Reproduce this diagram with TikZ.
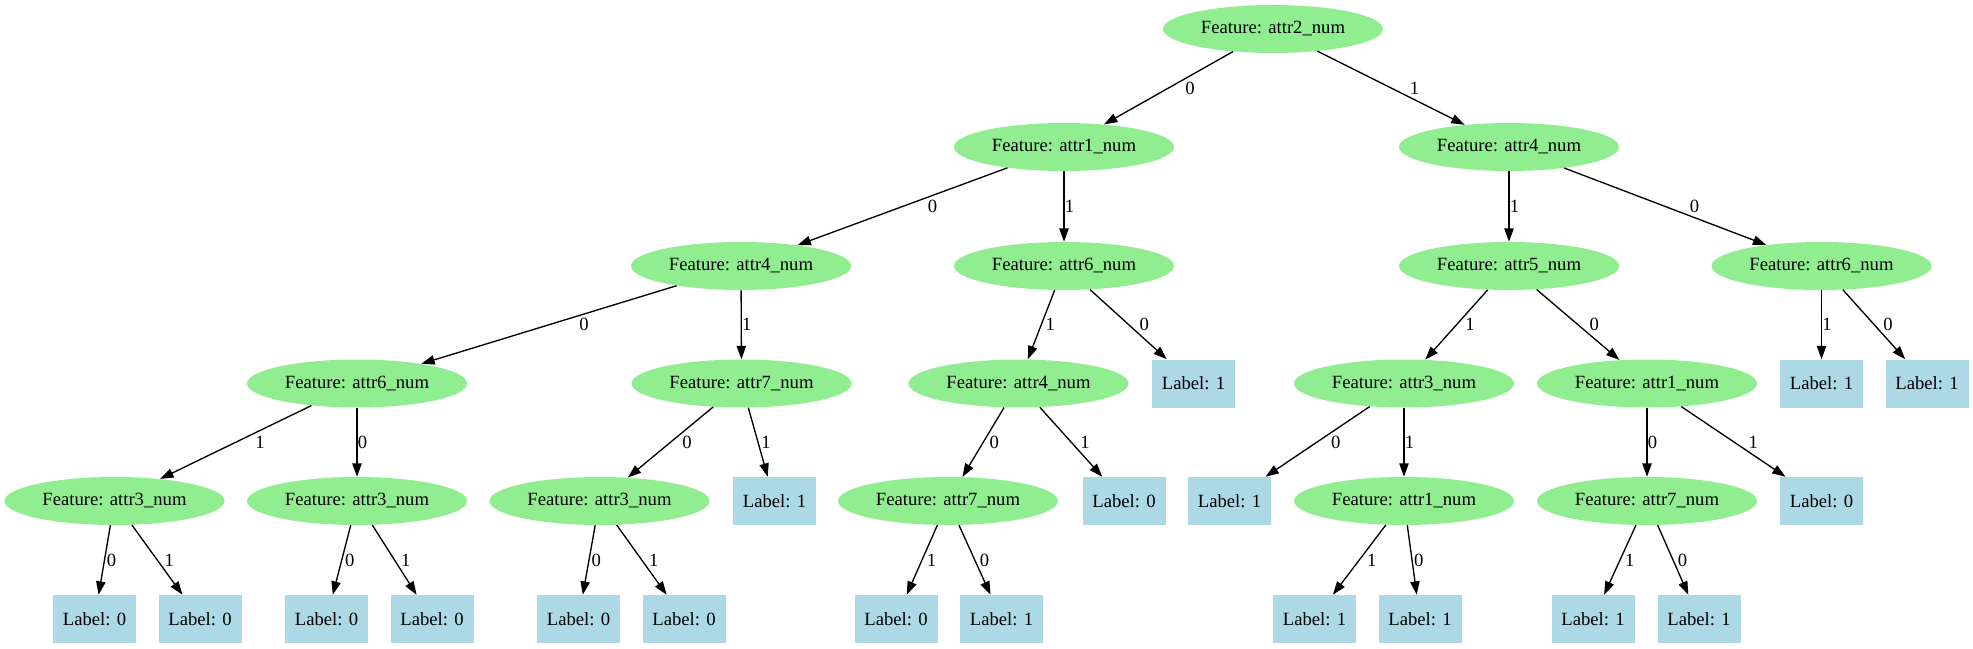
\documentclass[tikz,border=0pt]{standalone}
\usepackage{fontspec}
\setmainfont{Liberation Serif}
\usetikzlibrary{arrows.meta, shapes.geometric, calc}
\definecolor{featgreen}{HTML}{90EE90}
\definecolor{leafblue}{HTML}{ADD8E6}
\begin{document}
\begin{tikzpicture}[
  x=0.75pt, y=-0.75pt,
  every node/.style={font=\fontsize{14}{16}\selectfont},
  feat/.style={ellipse, fill=featgreen, inner sep=0pt,
               minimum width=165pt, minimum height=36pt},
  leaf/.style={rectangle, fill=leafblue, inner sep=0pt,
               minimum width=62.25pt, minimum height=36pt},
  arr/.style={-{Triangle[length=10pt, width=7pt]}, line width=1pt},
  elbl/.style={anchor=west, inner sep=0.5pt}
]
\useasboundingbox (0,0) rectangle (1973,649);

% level 0 / 1
\node[feat] (n0) at (1273,29)  {Feature: attr2\_num};
\node[feat] (n1) at (1064,147) {Feature: attr1\_num};
\node[feat] (n2) at (1509,147) {Feature: attr4\_num};

% level 2
\node[feat] (n3) at (741,266)    {Feature: attr4\_num};
\node[feat] (n4) at (1064,266)   {Feature: attr6\_num};
\node[feat] (n5) at (1509,266)   {Feature: attr5\_num};
\node[feat] (n6) at (1821.5,266) {Feature: attr6\_num};

% level 3
\node[feat] (n7)  at (357,383.5)    {Feature: attr6\_num};
\node[feat] (n8)  at (741.5,383.5)  {Feature: attr7\_num};
\node[feat] (n9)  at (1018.5,383.5) {Feature: attr4\_num};
\node[leaf] (l1)  at (1193.5,383.5) {Label: 1};
\node[feat] (n10) at (1404,383.5)   {Feature: attr3\_num};
\node[feat] (n11) at (1647,383.5)   {Feature: attr1\_num};
\node[leaf] (l2)  at (1821.5,383.5) {Label: 1};
\node[leaf] (l3)  at (1927,383.5)   {Label: 1};

% level 4
\node[feat] (n12) at (114.5,501)  {Feature: attr3\_num};
\node[feat] (n13) at (357,501)    {Feature: attr3\_num};
\node[feat] (n14) at (599.5,501)  {Feature: attr3\_num};
\node[leaf] (l4)  at (774.5,501)  {Label: 1};
\node[feat] (n15) at (948,501)    {Feature: attr7\_num};
\node[leaf] (l5)  at (1124,501)   {Label: 0};
\node[leaf] (l6)  at (1229.5,501) {Label: 1};
\node[feat] (n16) at (1404,501)   {Feature: attr1\_num};
\node[feat] (n17) at (1647,501)   {Feature: attr7\_num};
\node[leaf] (l7)  at (1821.5,501) {Label: 0};

% level 5 (leaves)
\node[leaf] (l8)  at (94.5,619)   {Label: 0};
\node[leaf] (l9)  at (200,619)    {Label: 0};
\node[leaf] (l10) at (326.5,619)  {Label: 0};
\node[leaf] (l11) at (432,619)    {Label: 0};
\node[leaf] (l12) at (578.5,619)  {Label: 0};
\node[leaf] (l13) at (684,619)    {Label: 0};
\node[leaf] (l14) at (896,619)    {Label: 0};
\node[leaf] (l15) at (1001.5,619) {Label: 1};
\node[leaf] (l16) at (1314.5,619) {Label: 1};
\node[leaf] (l17) at (1420,619)   {Label: 1};
\node[leaf] (l18) at (1593,619)   {Label: 1};
\node[leaf] (l19) at (1699,619)   {Label: 1};

% edges, label right of the line at its middle
\foreach \a/\b/\v in {n0/n1/0, n0/n2/1, n1/n3/0, n1/n4/1, n2/n5/1, n2/n6/0,
    n3/n7/0, n3/n8/1, n4/n9/1, n4/l1/0, n5/n10/1, n5/n11/0, n6/l2/1, n6/l3/0,
    n7/n12/1, n7/n13/0, n8/n14/0, n8/l4/1, n9/n15/0, n9/l5/1,
    n10/l6/0, n10/n16/1, n11/n17/0, n11/l7/1,
    n12/l8/0, n12/l9/1, n13/l10/0, n13/l11/1, n14/l12/0, n14/l13/1,
    n15/l14/1, n15/l15/0, n16/l16/1, n16/l17/0, n17/l18/1, n17/l19/0} {
  \draw[arr] (\a) -- (\b);
  \path let \p1=(\a), \p2=(\b),
            \n1={abs(\x2-\x1)/abs(\y2-\y1)*6.75} in
    node[elbl, xshift=\n1] at ($(\a)!0.5!(\b)$) {\v};
}
\end{tikzpicture}
\end{document}
